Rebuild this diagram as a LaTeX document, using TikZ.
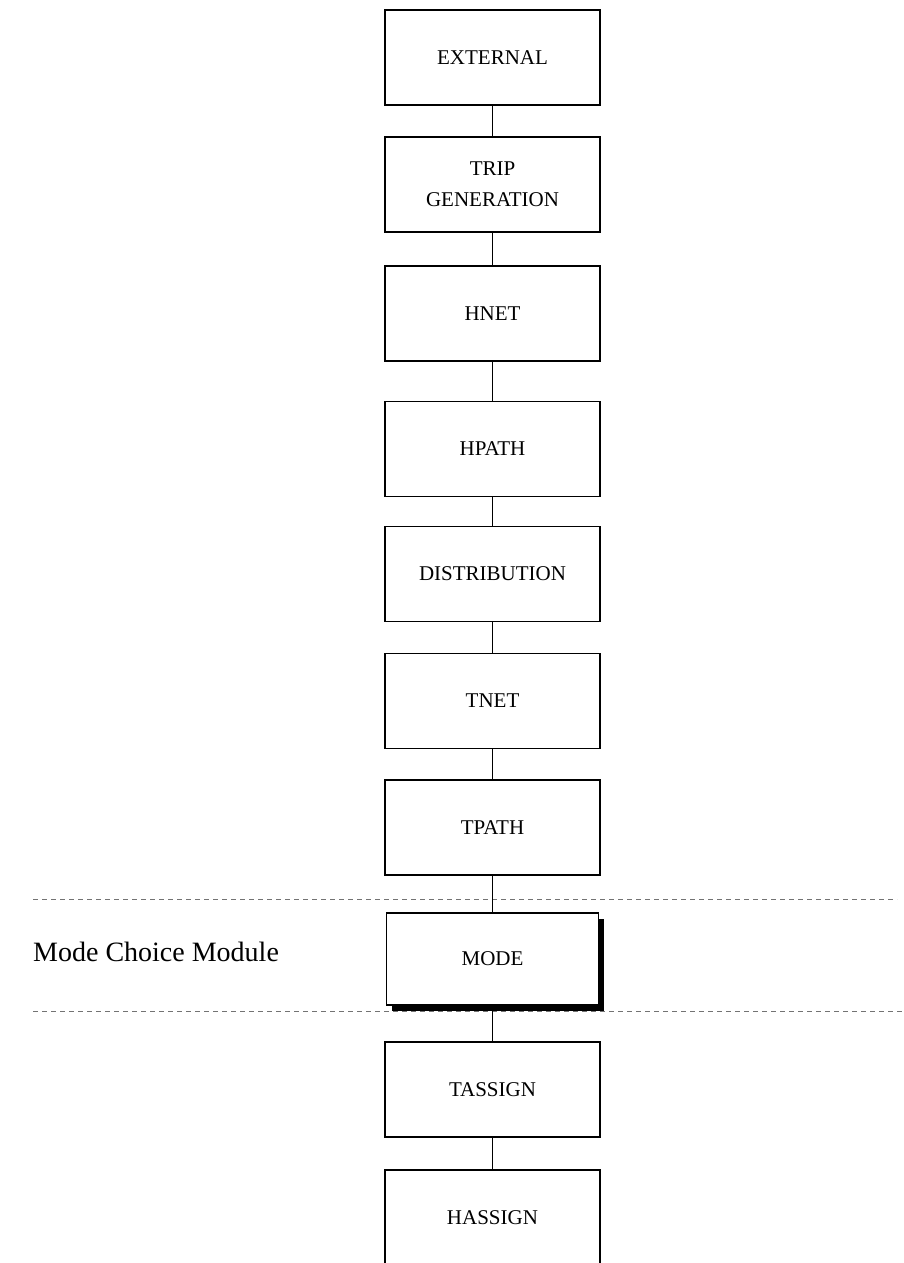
\documentclass[tikz,border=0pt]{standalone}
\usepackage{fontspec}
\setmainfont{Liberation Serif}
\usetikzlibrary{shadows}
\begin{document}
\begin{tikzpicture}[x=1pt,y=-1pt,
  stagebox/.style={draw=black, line width=1.5pt, fill=white,
    minimum width=215pt, minimum height=95pt, inner sep=0pt,
    align=center, font=\fontsize{21}{31}\selectfont},
  modebox/.style={stagebox, minimum width=212pt, minimum height=92pt,
    drop shadow={shadow xshift=5pt, shadow yshift=-6pt, fill=black, opacity=1}},
  link/.style={draw=black, line width=0.9pt},
  divider/.style={draw=black!55, line width=0.9pt, dash pattern=on 5pt off 4pt}]
\useasboundingbox (0,0) rectangle (903,1263);
\clip (0,0) rectangle (903,1263);

% module boundaries
\coordinate (upL) at (33,899);
\coordinate (upR) at (897,899);
\coordinate (loL) at (33,1011);
\coordinate (loR) at (903,1011);
\draw[divider] (upL) -- (upR);
\draw[divider] (loL) -- (loR);

% model stages
\node[stagebox] (ext)  at (492.5,57.5)  {EXTERNAL};
\node[stagebox] (trip) at (492.5,184.5) {TRIP\\GENERATION};
\node[stagebox] (hnet) at (492.5,313.5) {HNET};
\node[stagebox] (hpath) at (492.5,449) {HPATH};
\node[stagebox] (dist) at (492.5,574) {DISTRIBUTION};
\node[stagebox] (tnet) at (492.5,701) {TNET};
\node[stagebox] (tpath) at (492.5,827.5) {TPATH};
\node[modebox]  (mode) at (492.5,959) {MODE};
\node[stagebox] (tasg) at (492.5,1089.5) {TASSIGN};
\node[stagebox] (hasg) at (492.5,1217.5) {HASSIGN};

\node[font=\fontsize{28}{32}\selectfont, anchor=west, inner sep=0pt] (mcm) at (33,952) {Mode Choice Module};

% links between stages
\draw[link] (ext) -- (trip);
\draw[link] (trip) -- (hnet);
\draw[link] (hnet) -- (hpath);
\draw[link] (hpath) -- (dist);
\draw[link] (dist) -- (tnet);
\draw[link] (tnet) -- (tpath);
\draw[link] (tpath) -- (mode);
\draw[link] (mode) -- (tasg);
\draw[link] (tasg) -- (hasg);
\end{tikzpicture}
\end{document}
